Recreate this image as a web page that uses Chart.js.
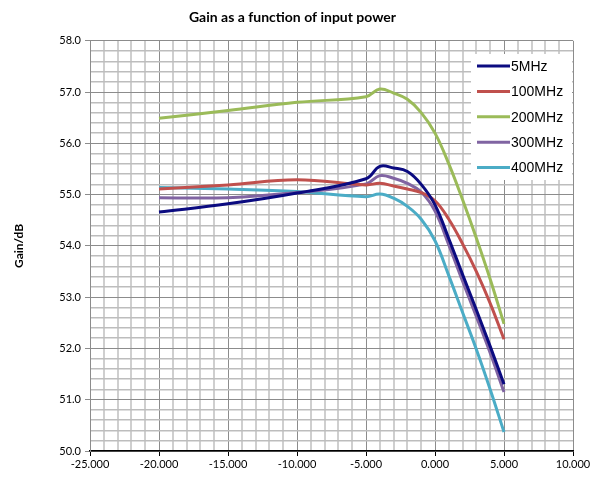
<!DOCTYPE html>
<html>
<head>
<meta charset="utf-8">
<script src="https://cdn.jsdelivr.net/npm/chart.js@4.4.1/dist/chart.umd.min.js"></script>
<style>
  html, body { margin: 0; padding: 0; background: #fff; }
  #wrap { width: 600px; height: 477px; }
</style>
</head>
<body>
<div id="wrap"><canvas id="gainChart"></canvas></div>
<script>
// input power (x) and gain values
var inputPower = [-20, -15, -10, -5, -4, -3, -2, -1, 0, 1, 2, 3, 4, 5];
var gain5 =   [54.66, 54.82, 55.03, 55.31, 55.55, 55.52, 55.45, 55.20, 54.80, 54.14, 53.44, 52.75, 52.04, 51.30];
var gain100 = [55.11, 55.19, 55.29, 55.19, 55.22, 55.17, 55.11, 55.04, 54.88, 54.52, 54.04, 53.50, 52.88, 52.18];
var gain200 = [56.49, 56.64, 56.80, 56.91, 57.06, 56.98, 56.86, 56.60, 56.20, 55.60, 54.90, 54.15, 53.35, 52.48];
var gain300 = [54.94, 54.94, 55.04, 55.21, 55.37, 55.32, 55.22, 55.05, 54.68, 54.02, 53.31, 52.62, 51.91, 51.15];
var gain400 = [55.14, 55.11, 55.06, 54.96, 55.01, 54.93, 54.77, 54.52, 54.10, 53.42, 52.70, 51.98, 51.20, 50.37];
var seriesNames = ['5MHz', '100MHz', '200MHz', '300MHz', '400MHz'];
var seriesColors = ['#0b0b80', '#c0504d', '#9bbb59', '#8064a2', '#4bacc6'];

function toPoints(ys) {
  var pts = [];
  for (var i = 0; i < inputPower.length; i++) pts.push({x: inputPower[i], y: ys[i]});
  return pts;
}

var allSeries = [gain5, gain100, gain200, gain300, gain400];
var datasets = [];
for (var s = 0; s < allSeries.length; s++) {
  datasets.push({
    label: seriesNames[s],
    data: toPoints(allSeries[s]),
    borderColor: seriesColors[s],
    backgroundColor: seriesColors[s],
    borderWidth: 3,
    pointRadius: 0,
    showLine: true,
    tension: 0.4,
    fill: false
  });
}

function isMajor(v, step) {
  var r = v / step;
  return Math.abs(r - Math.round(r)) < 1e-6;
}

// legend drawn inside the plot, top right, like the original
var boxLegend = {
  id: 'boxLegend',
  afterDatasetsDraw: function(chart) {
    var ctx = chart.ctx, area = chart.chartArea;
    var x0 = 471, y0 = 54, w = area.right - x0 - 1, h = 126;
    ctx.save();
    ctx.fillStyle = '#fff';
    ctx.fillRect(x0, y0, w, h);
    ctx.font = '14px "Liberation Sans", Arial, sans-serif';
    ctx.textBaseline = 'middle';
    var ds = chart.data.datasets;
    for (var i = 0; i < ds.length; i++) {
      var yy = 66 + i * 25.4;
      ctx.strokeStyle = ds[i].borderColor;
      ctx.lineWidth = 3;
      ctx.beginPath();
      ctx.moveTo(477, yy);
      ctx.lineTo(510, yy);
      ctx.stroke();
      ctx.fillStyle = '#000';
      ctx.fillText(ds[i].label, 511, yy + 1);
    }
    ctx.restore();
  }
};

new Chart(document.getElementById('gainChart'), {
  type: 'scatter',
  data: { datasets: datasets },
  plugins: [boxLegend],
  options: {
    responsive: true,
    maintainAspectRatio: false,
    animation: false,
    layout: { padding: { left: 12, right: 27, top: 0, bottom: 0 } },
    plugins: {
      legend: { display: false },
      tooltip: { enabled: false },
      title: {
        display: true,
        text: 'Gain as a function of input power',
        color: '#000',
        font: { family: 'Lato, "Liberation Sans", sans-serif', size: 14, weight: 'bold' },
        padding: { top: 9, bottom: 15 }
      }
    },
    scales: {
      x: {
        type: 'linear',
        min: -25,
        max: 10,
        afterFit: function(scale) { scale.height = 26; },
        ticks: {
          stepSize: 1,
          autoSkip: false,
          maxRotation: 0,
          padding: 2,
          color: '#000',
          font: { family: 'Lato, "Liberation Sans", sans-serif', size: 11 },
          callback: function(v) { return isMajor(v, 5) ? v.toFixed(3) : ''; }
        },
        grid: {
          color: function(c) { return isMajor(c.tick.value, 5) ? '#8c8c8c' : '#cfcfcf'; },
          lineWidth: function(c) { return isMajor(c.tick.value, 5) ? 1 : 2; },
          tickColor: function(c) { return isMajor(c.tick.value, 5) ? '#000' : 'rgba(0,0,0,0)'; },
          tickLength: 5
        },
        border: { color: '#000', width: 1.5 }
      },
      y: {
        min: 50,
        max: 58,
        afterFit: function(scale) { scale.width = 78; },
        ticks: {
          stepSize: 0.2,
          autoSkip: false,
          padding: 4,
          color: '#000',
          font: { family: 'Lato, "Liberation Sans", sans-serif', size: 11 },
          callback: function(v) { return isMajor(v, 1) ? v.toFixed(1) : ''; }
        },
        grid: {
          color: function(c) { return isMajor(c.tick.value, 1) ? '#8c8c8c' : '#bdbdbd'; },
          lineWidth: function(c) { return isMajor(c.tick.value, 1) ? 1 : 1.5; },
          tickColor: function(c) { return isMajor(c.tick.value, 1) ? '#8c8c8c' : 'rgba(0,0,0,0)'; },
          tickLength: 5
        },
        border: { color: '#8c8c8c' },
        title: {
          display: true,
          text: 'Gain/dB',
          color: '#000',
          font: { family: 'Lato, "Liberation Sans", sans-serif', size: 12, weight: 'bold' },
          padding: { top: 0, bottom: 14 }
        }
      }
    }
  }
});
</script>
</body>
</html>
